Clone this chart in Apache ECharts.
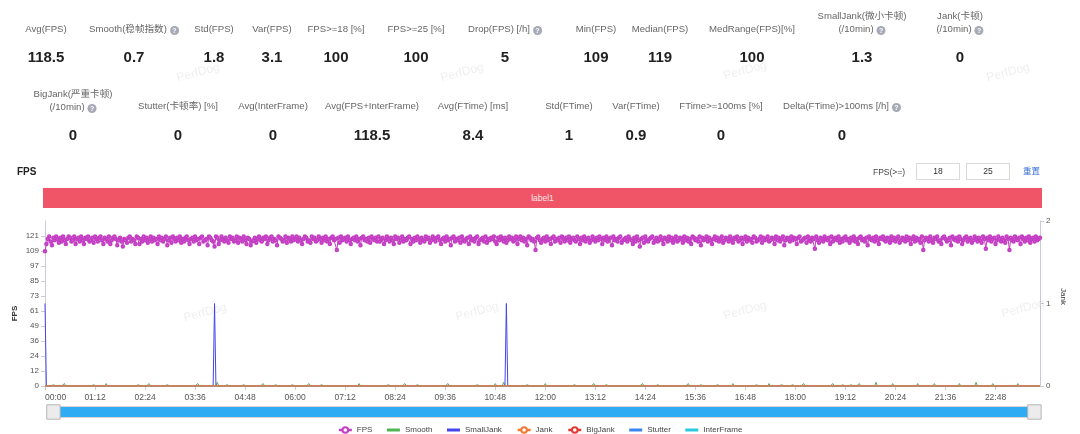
<!DOCTYPE html>
<html>
<head>
<meta charset="utf-8">
<script src="https://cdn.jsdelivr.net/npm/echarts@6/dist/echarts.min.js"></script>
<style>
html,body{margin:0;padding:0;background:#fff;width:1080px;height:434px;overflow:hidden;font-family:"Liberation Sans","Noto Sans CJK SC",sans-serif;}
#chart{position:absolute;left:0;top:0;width:1080px;height:434px;}
.ov{position:absolute;white-space:nowrap;}
.cell{position:absolute;transform:translateX(-50%);text-align:center;white-space:nowrap;}
.lab{font-size:9.6px;color:#666;line-height:13px;}
.val{font-size:15px;font-weight:bold;color:#222;line-height:18px;}
.q{display:inline-block;width:9px;height:9px;border-radius:50%;background:#a6a9b6;color:#fff;font-size:7px;line-height:9px;text-align:center;font-weight:bold;vertical-align:-1px;margin-left:3px;}
.wm{position:absolute;transform:translate(-50%,-50%) rotate(-15deg);color:rgba(0,0,0,0.07);font-size:12px;white-space:nowrap;}
.box{position:absolute;border:1px solid #d9d9d9;height:15px;width:42px;font-size:8.5px;line-height:15px;text-align:center;color:#333;}
</style>
</head>
<body>
<div id="chart"></div>
<div id="ovl"></div>
<script>
// ---------- summary statistics ----------
const row1Labels = ["Avg(FPS)", "Smooth(稳帧指数)|?", "Std(FPS)", "Var(FPS)", "FPS>=18 [%]", "FPS>=25 [%]", "Drop(FPS) [/h]|?", "Min(FPS)", "Median(FPS)", "MedRange(FPS)[%]", "SmallJank(微小卡顿)\n(/10min)|?", "Jank(卡顿)\n(/10min)|?"];
const row1Values = ["118.5", "0.7", "1.8", "3.1", "100", "100", "5", "109", "119", "100", "1.3", "0"];
const row2Labels = ["BigJank(严重卡顿)\n(/10min)|?", "Stutter(卡顿率) [%]", "Avg(InterFrame)", "Avg(FPS+InterFrame)", "Avg(FTime) [ms]", "Std(FTime)", "Var(FTime)", "FTime>=100ms [%]", "Delta(FTime)>100ms [/h]|?"];
const row2Values = ["0", "0", "0", "118.5", "8.4", "1", "0.9", "0", "0"];

// ---------- chart data (one sample every 2 s) ----------
const sampleStepSec = 2;
const fps = [
109,115,119,121,117,114,120,118,121,119,116,120,117,121,118,115,119,121,120,117,
118,121,115,119,120,117,121,118,115,120,119,121,117,118,120,116,121,119,117,120,
121,118,115,120,119,117,121,115,118,120,121,119,114,118,120,117,113,119,118,116,
120,121,117,119,118,115,121,120,115,119,117,121,118,120,116,119,121,117,120,118,
119,115,121,118,120,117,119,121,114,118,120,116,121,119,117,120,118,121,116,119,
117,120,121,118,115,119,120,117,121,118,119,115,120,121,117,118,119,114,121,120,
118,117,113,121,120,115,118,121,119,117,120,118,116,121,119,120,117,118,121,116,
120,119,117,121,118,115,120,119,114,117,118,120,116,119,121,118,117,120,119,121,
115,118,120,121,117,119,118,114,121,120,119,117,118,121,116,120,119,117,121,118,
119,121,117,120,118,115,119,121,120,117,118,116,121,119,120,117,118,121,119,116,
120,118,121,117,119,115,120,121,118,119,110,120,116,121,118,119,120,117,121,118,
115,119,120,118,121,117,119,114,120,121,118,119,117,120,116,121,119,118,120,117,
121,117,119,120,115,118,121,119,117,120,118,115,121,119,120,116,118,121,117,119,
118,120,121,115,119,117,120,118,121,119,116,120,118,117,121,119,120,116,118,121,
119,117,120,121,118,115,119,120,117,121,118,119,114,120,121,117,119,118,120,116,
121,118,117,119,120,115,121,118,119,117,120,121,115,118,119,120,117,121,116,119,
118,120,119,121,117,115,120,118,121,119,117,120,116,118,121,119,120,117,118,121,
115,119,121,118,120,117,119,114,121,120,118,119,117,110,120,121,118,116,119,120,
117,121,118,119,115,120,121,117,119,118,120,116,121,119,117,120,118,121,116,119,
120,118,117,121,119,115,120,118,121,117,119,120,116,118,121,119,117,120,118,121,
119,115,120,118,121,117,119,120,114,121,118,119,117,120,121,116,118,119,120,117,
121,119,118,115,120,117,121,118,113,119,120,116,121,118,117,119,120,121,116,118,
120,117,119,121,118,115,120,119,117,121,118,120,116,119,121,117,118,120,119,116,
121,118,120,117,119,115,121,120,118,119,117,121,114,120,118,119,121,117,120,118,
115,119,121,118,120,117,119,121,116,118,120,119,117,121,118,116,120,119,121,117,
118,120,115,119,121,117,120,118,119,116,121,120,117,118,119,121,116,120,118,119,
121,117,118,120,119,115,121,118,120,117,119,121,114,118,120,119,117,121,118,120,
119,115,120,121,117,118,119,120,116,121,118,117,120,119,111,121,118,116,120,119,
117,121,119,118,120,115,121,117,119,120,118,121,116,119,117,120,121,118,119,116,
120,118,121,117,119,115,120,121,118,119,117,120,114,121,119,118,120,117,121,118,
115,120,119,121,118,117,120,119,116,121,118,120,117,119,121,116,118,120,119,117,
121,118,120,115,119,121,117,120,118,119,116,121,110,118,120,119,117,121,118,116,
120,119,121,117,118,115,120,121,119,117,118,120,114,121,119,118,120,117,121,119,
115,118,120,121,117,119,120,116,118,121,119,117,120,118,116,121,119,111,120,118,
121,117,119,120,115,118,121,119,117,120,118,116,121,119,110,120,118,117,121,119,
118,120,115,121,119,117,120,118,121,116,119,120,117,121,118,119,120
];
// sparse non-zero readings: [sampleIndex, value]
const smoothEvents = [[6,1],[14,2],[22,1],[35,1],[44,2],[52,1],[67,1],[75,2],[88,1],[97,1],[110,2],[118,1],[124,3],[131,1],[143,1],[157,2],[166,1],[178,1],[190,2],[199,1],[214,1],[226,2],[238,1],[247,1],[259,2],[268,1],[281,1],[290,2],[302,1],[311,1],[324,2],[330,3],[338,1],[347,1],[360,2],[372,1],[381,1],[395,2],[404,1],[417,1],[430,2],[441,1],[452,1],[463,2],[472,1],[484,1],[495,2],[503,1],[512,1],[521,2],[530,1],[538,1],[546,2],[552,1],[560,1],[567,2],[574,1],[580,1],[586,2],[592,1],[598,3],[604,1],[610,2],[616,1],[622,1],[628,2],[634,1],[640,2],[646,1],[652,1],[658,2],[664,1],[670,3],[676,1],[682,2],[688,1],[694,1],[700,2],[706,1],[712,1]];
const smallJankEvents = [[0,1],[122,1],[332,1]];
const jankEvents = [];
const bigJankEvents = [];
const stutterEvents = [];
const interFrameEvents = [];
const leftTickLabels = [0,12,24,36,49,61,73,85,97,109,121];

const seriesNames = ["FPS","Smooth","SmallJank","Jank","BigJank","Stutter","InterFrame"];
const seriesColors = ["#c33ec3","#52b552","#4545ee","#f47a32","#e53935","#3b86f2","#2cc8de"];

// ---------- build tables ----------
const n = fps.length;
function fmt(sec){const m=Math.floor(sec/60),s=sec%60;return String(m).padStart(2,'0')+':'+String(s).padStart(2,'0');}
const categories = fps.map((_, i) => fmt(i * sampleStepSec));
const labelEvery = 72 / sampleStepSec;
function fromEvents(ev){const a=new Array(n).fill(0);ev.forEach(([i,v])=>{a[i]=v;});return a;}

// ---------- overlay html ----------
const ovl = document.getElementById('ovl');
function labelHtml(t){
  const parts=t.split('|');let s=parts[0].replace('\n','<br>');
  if(parts.length>1) s+='<span class="q">?</span>';
  return s;
}
function addRow(labels, values, centers, labTop1, labTop2, valTop){
  labels.forEach((l,i)=>{
    const d=document.createElement('div');d.className='cell lab';
    d.style.left=centers[i]+'px';d.style.top=(l.indexOf('\n')>=0?labTop2:labTop1)+'px';
    d.innerHTML=labelHtml(l);ovl.appendChild(d);
    const v=document.createElement('div');v.className='cell val';
    v.style.left=centers[i]+'px';v.style.top=valTop+'px';v.textContent=values[i];ovl.appendChild(v);
  });
}
addRow(row1Labels,row1Values,[46,134,214,272,336,416,505,596,660,752,862,960],21.5,8.5,48);
addRow(row2Labels,row2Values,[73,178,273,372,473,569,636,721,842],98.5,86.5,126);

function addDiv(cls, html, css){const d=document.createElement('div');d.className=cls;d.innerHTML=html;Object.assign(d.style,css);ovl.appendChild(d);return d;}
addDiv('ov','FPS',{left:'17px',top:'165px',fontSize:'10px',fontWeight:'bold',color:'#222',lineHeight:'14px'});
addDiv('ov','label1',{left:'43px',top:'188px',width:'999px',height:'20px',background:'#ef5567',color:'#fde4e8',fontSize:'8.5px',lineHeight:'20px',textAlign:'center'});
addDiv('ov','FPS(&gt;=)',{left:'873px',top:'166px',fontSize:'8.5px',color:'#444',lineHeight:'12px'});
addDiv('box','18',{left:'916px',top:'163px'});
addDiv('box','25',{left:'966px',top:'163px'});
addDiv('ov','重置',{left:'1023px',top:'165px',fontSize:'8.5px',color:'#3d6fd6',lineHeight:'13px'});
[[198,72],[462,72],[745,70],[1008,72],[205,312],[477,311],[745,310],[1023,308]].forEach(p=>{
  addDiv('wm','PerfDog',{left:p[0]+'px',top:p[1]+'px'});
});

// ---------- chart ----------
const chart = echarts.init(document.getElementById('chart'), null, {renderer:'canvas'});
const FONT = 'Liberation Sans';
const axisGray = '#c9ccd6';
const barIcon = 'path://M0,0H13V3H0Z';
const noSymbolSeries = ["Smooth","SmallJank","Stutter","InterFrame"];
const option = {
  animation:false,
  textStyle:{fontFamily:FONT},
  color: seriesColors,
  grid:{left:45,right:40,top:221,bottom:48,containLabel:false,outerBoundsMode:'none'},
  legend:{
    data: seriesNames.map(nm => noSymbolSeries.indexOf(nm)>=0 ? {name:nm, icon:barIcon} : {name:nm}),
    left:'center', top:421, itemWidth:13, itemHeight:7, itemGap:14.5,
    textStyle:{fontSize:8,color:'#444',fontFamily:FONT}, lineStyle:{width:2.5},
    itemStyle:{borderWidth:1.5}
  },
  xAxis:{
    type:'category', data:categories, boundaryGap:false,
    axisLine:{show:true,lineStyle:{color:axisGray}},
    axisTick:{show:true,interval:labelEvery-1,length:4,lineStyle:{color:axisGray}},
    axisLabel:{interval:labelEvery-1,fontSize:8.5,color:'#555',margin:7,fontFamily:FONT,alignMinLabel:'left'},
    splitLine:{show:false}
  },
  yAxis:[
    {type:'value',min:0,max:133.54,interval:12.14,
     name:'FPS',nameLocation:'middle',nameGap:26,nameMoveOverlap:false,
     nameTextStyle:{fontSize:8,fontWeight:'bold',color:'#333',fontFamily:FONT,padding:[0,20,0,0]},
     axisLine:{show:true,lineStyle:{color:axisGray}},
     axisTick:{show:true,length:4,lineStyle:{color:axisGray}},
     splitLine:{show:false},
     axisLabel:{fontSize:8,color:'#555',margin:6,showMaxLabel:false,fontFamily:FONT,
       formatter:(v,i)=> (leftTickLabels[i]!==undefined?String(leftTickLabels[i]):'')}
    },
    {type:'value',min:0,max:2,interval:1,
     name:'Jank',nameLocation:'middle',nameGap:19,nameRotate:-90,nameMoveOverlap:false,
     nameTextStyle:{fontSize:8,color:'#333',fontFamily:FONT,padding:[0,14,0,0]},
     axisLine:{show:true,lineStyle:{color:axisGray}},
     axisTick:{show:true,length:4,lineStyle:{color:axisGray}},
     splitLine:{show:false},
     axisLabel:{fontSize:8,color:'#555',margin:6,fontFamily:FONT}
    }
  ],
  dataZoom:[{
    type:'slider', xAxisIndex:0, start:0, end:100,
    left:51, right:46, top:406, height:12,
    showDetail:false, showDataShadow:false, brushSelect:false, moveHandleSize:0,
    backgroundColor:'#fff', borderColor:'#d6d6d6',
    fillerColor:'#2eabf2',
    handleIcon:'path://M0,0H13V14H0Z',
    handleSize:'120%',
    handleStyle:{color:'#ececec',borderColor:'#b5b5b5',borderWidth:1},
    emphasis:{handleStyle:{color:'#ececec',borderColor:'#b5b5b5'}}
  }],
  series:[
    {name:'FPS',type:'line',yAxisIndex:0,data:fps,symbol:'emptyCircle',symbolSize:2.5,showAllSymbol:true,
     lineStyle:{width:1,color:seriesColors[0]},itemStyle:{color:seriesColors[0],borderWidth:2}},
    {name:'Smooth',type:'line',yAxisIndex:0,data:fromEvents(smoothEvents),symbol:'none',
     lineStyle:{width:1,color:seriesColors[1]},itemStyle:{color:seriesColors[1]}},
    {name:'SmallJank',type:'line',yAxisIndex:1,data:fromEvents(smallJankEvents),symbol:'none',
     lineStyle:{width:1,color:seriesColors[2]},itemStyle:{color:seriesColors[2]}},
    {name:'Jank',type:'line',yAxisIndex:1,data:fromEvents(jankEvents),symbol:'emptyCircle',showSymbol:false,z:4,
     lineStyle:{width:1.5,color:seriesColors[3]},itemStyle:{color:seriesColors[3]}},
    {name:'BigJank',type:'line',yAxisIndex:1,data:fromEvents(bigJankEvents),symbol:'emptyCircle',showSymbol:false,
     lineStyle:{width:1,color:seriesColors[4]},itemStyle:{color:seriesColors[4]}},
    {name:'Stutter',type:'line',yAxisIndex:1,data:fromEvents(stutterEvents),symbol:'none',
     lineStyle:{width:1,color:seriesColors[5]},itemStyle:{color:seriesColors[5]}},
    {name:'InterFrame',type:'line',yAxisIndex:1,data:fromEvents(interFrameEvents),symbol:'none',
     lineStyle:{width:1,color:seriesColors[6]},itemStyle:{color:seriesColors[6]}}
  ]
};
chart.setOption(option);
</script>
</body>
</html>
